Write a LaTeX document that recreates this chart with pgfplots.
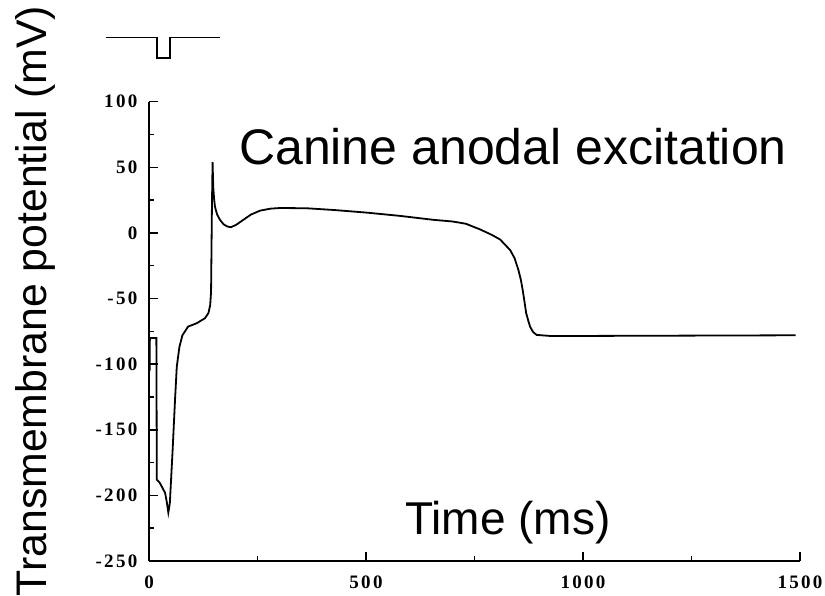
\documentclass[border=0pt]{standalone}
\usepackage{fontspec}
\setmainfont{Liberation Sans}
\newfontfamily\tickfont[LetterSpace=12]{Liberation Serif}
\usepackage{pgfplots}
\pgfplotsset{compat=1.18}
\begin{document}
\begin{tikzpicture}
\path[use as bounding box] (-149pt,-34pt) rectangle (676pt,561pt);
\begin{axis}[
  at={(0pt,0pt)}, anchor=south west,
  scale only axis, width=651pt, height=459.3pt,
  xmin=0, xmax=1500, ymin=-250, ymax=100,
  axis lines=left,
  axis line style={-, line width=1.8pt},
  tick align=inside,
  xtick={0,500,1000,1500},
  xticklabels={0,500,1000,1500},
  minor xtick={250,750,1250},
  ytick={-250,-200,-150,-100,-50,0,50,100},
  yticklabels={-250,-200,-150,-100,-50,0,50,100},
  minor ytick={-225,-175,-125,-75,-25,25,75},
  major tick length=9pt, minor tick length=5pt,
  every tick/.style={black, line width=1.5pt},
  tick label style={font=\tickfont\bfseries\fontsize{19}{22}\selectfont, inner sep=0pt},
  xticklabel style={anchor=center, yshift=-21pt},
  yticklabel style={anchor=east, xshift=-11.5pt},
  clip=false,
]
\addplot[black, line width=1.8pt] coordinates {
(1.5,-105) (2,-80) (17,-80) (18,-188) (24,-190) (29,-193) (37,-198) (41,-205)
(44.5,-213) (48,-206) (54.5,-165) (60,-127) (64,-102) (70,-87) (77,-78)
(90,-71.4) (110,-68.8) (129,-65) (137,-61) (141,-55) (143,-45) (145,20)
(146.5,54) (148,35) (150,26) (152,20) (157,14) (163.5,10) (172,6.5) (180,5)
(188,4.3) (200,6) (217,9.9) (235,14) (256,17) (280,18.5) (302,19) (363,18.8)
(425,17.5) (501,15.5) (578,13) (655,10) (700,8.7) (730,7) (762,2.8) (790,-1.5)
(809,-5) (832,-13) (842,-19) (851,-28) (857,-36) (861,-43.4) (865,-52) (869,-61)
(874,-67) (878,-71.4) (885,-75.5) (893,-77.7) (924,-78.5) (1000,-78.5) (1490,-78)
};
\addplot[black, line width=1.8pt] coordinates {
(-99,148.9) (17.7,148.9) (17.7,133.2) (48.4,133.2) (48.4,148.9) (163.6,148.9)
};
\end{axis}
\node[anchor=base west, inner sep=0pt, font=\fontsize{50}{60}\selectfont] at (90pt,396pt) {Canine anodal excitation};
\node[anchor=base west, inner sep=0pt, font=\fontsize{46}{55}\selectfont] at (256pt,27pt) {Time (ms)};
\node[anchor=base, rotate=90, inner sep=0pt, font=\fontsize{42.8}{50}\selectfont] at (-102.3pt,260pt) {Transmembrane potential (mV)};
\end{tikzpicture}
\end{document}
